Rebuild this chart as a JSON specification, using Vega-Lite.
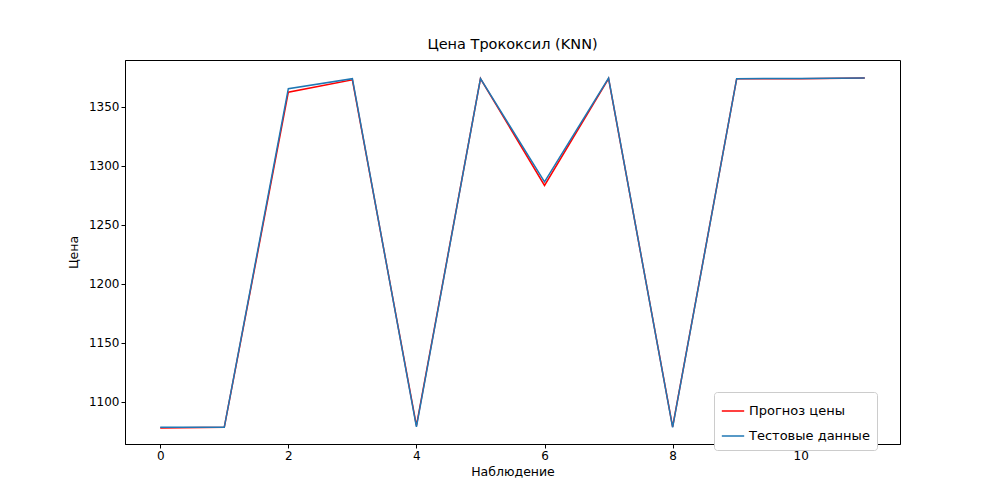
{
  "$schema": "https://vega.github.io/schema/vega-lite/v6.json",
  "width": 775,
  "height": 384,
  "autosize": "none",
  "padding": {"left": 125, "top": 60, "right": 100, "bottom": 56},
  "background": "white",
  "title": {"text": "Цена Трококсил  (KNN)", "font": "DejaVu Sans", "fontSize": 14.5, "fontWeight": "normal", "offset": 8},
  "config": {
    "view": {"stroke": "black", "strokeWidth": 1},
    "axis": {"grid": false, "labelFont": "DejaVu Sans", "titleFont": "DejaVu Sans", "labelFontSize": 12, "titleFontSize": 12.5, "titleFontWeight": "normal", "domainColor": "black", "tickColor": "black", "labelColor": "black", "tickSize": 4}
  },
  "data": {
    "values": [
      {"obs": 0, "price": 1078, "series": "Прогноз цены"},
      {"obs": 1, "price": 1078.5, "series": "Прогноз цены"},
      {"obs": 2, "price": 1362.5, "series": "Прогноз цены"},
      {"obs": 3, "price": 1373, "series": "Прогноз цены"},
      {"obs": 4, "price": 1080, "series": "Прогноз цены"},
      {"obs": 5, "price": 1374, "series": "Прогноз цены"},
      {"obs": 6, "price": 1283.5, "series": "Прогноз цены"},
      {"obs": 7, "price": 1374, "series": "Прогноз цены"},
      {"obs": 8, "price": 1079, "series": "Прогноз цены"},
      {"obs": 9, "price": 1374, "series": "Прогноз цены"},
      {"obs": 10, "price": 1374, "series": "Прогноз цены"},
      {"obs": 11, "price": 1374.5, "series": "Прогноз цены"},
      {"obs": 0, "price": 1078.5, "series": "Тестовые данные"},
      {"obs": 1, "price": 1078.5, "series": "Тестовые данные"},
      {"obs": 2, "price": 1365.5, "series": "Тестовые данные"},
      {"obs": 3, "price": 1374, "series": "Тестовые данные"},
      {"obs": 4, "price": 1079, "series": "Тестовые данные"},
      {"obs": 5, "price": 1374, "series": "Тестовые данные"},
      {"obs": 6, "price": 1286.5, "series": "Тестовые данные"},
      {"obs": 7, "price": 1374.5, "series": "Тестовые данные"},
      {"obs": 8, "price": 1078.5, "series": "Тестовые данные"},
      {"obs": 9, "price": 1374, "series": "Тестовые данные"},
      {"obs": 10, "price": 1374.2, "series": "Тестовые данные"},
      {"obs": 11, "price": 1374.5, "series": "Тестовые данные"}
    ]
  },
  "mark": {"type": "line", "strokeWidth": 1.5},
  "encoding": {
    "x": {
      "field": "obs", "type": "quantitative", "title": "Наблюдение",
      "scale": {"domain": [-0.55, 11.55], "nice": false, "zero": false},
      "axis": {"values": [0, 2, 4, 6, 8, 10], "format": "d", "titlePadding": 4}
    },
    "y": {
      "field": "price", "type": "quantitative", "title": "Цена",
      "scale": {"domain": [1064.4, 1389.8], "nice": false, "zero": false},
      "axis": {"values": [1100, 1150, 1200, 1250, 1300, 1350], "format": "d", "titlePadding": 8}
    },
    "color": {
      "field": "series", "type": "nominal",
      "scale": {"domain": ["Прогноз цены", "Тестовые данные"], "range": ["#ff0000", "#1f77b4"]},
      "legend": {
        "title": null, "orient": "none", "legendX": 589, "legendY": 332,
        "symbolType": "stroke", "symbolStrokeWidth": 1.5, "symbolSize": 500,
        "labelFont": "DejaVu Sans", "labelFontSize": 13, "labelColor": "black",
        "strokeColor": "#cccccc", "fillColor": "white", "padding": 7, "cornerRadius": 3,
        "rowPadding": 6
      }
    }
  }
}
